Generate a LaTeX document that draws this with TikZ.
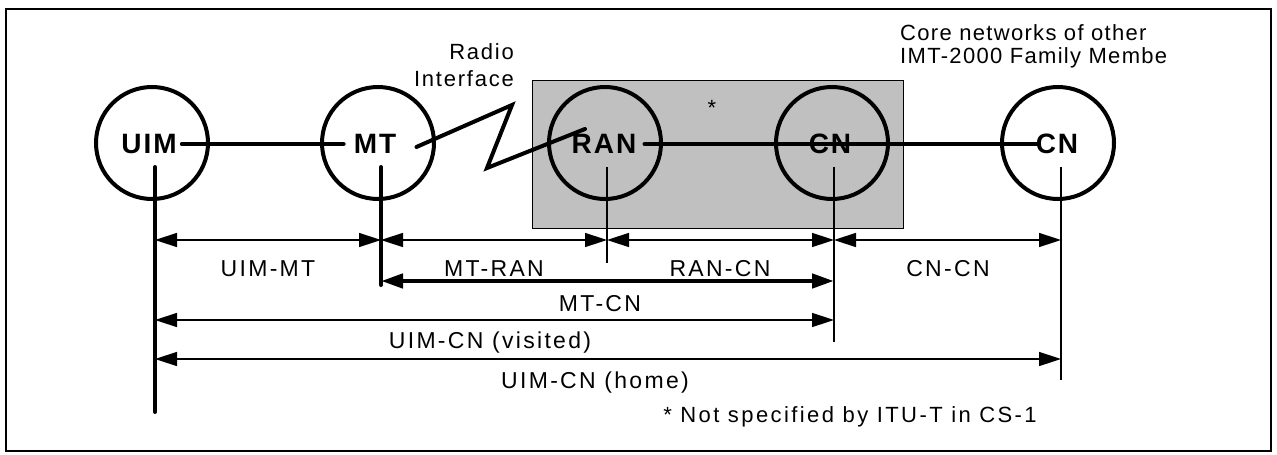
\documentclass[tikz,border=0pt]{standalone}
\usepackage{fontspec}
\setmainfont{Liberation Sans}
\usetikzlibrary{arrows.meta,positioning,calc}
\definecolor{ranbox}{RGB}{192,192,192}

\begin{document}
\begin{tikzpicture}[x=1pt,y=-1pt,
    site/.style={draw,circle,line width=4pt,minimum size=112pt,inner sep=0pt},
    sitelab/.style={font=\fontsize{28}{30}\selectfont\bfseries\addfontfeature{LetterSpace=7},inner sep=0pt},
    dimlab/.style={font=\fontsize{23}{25}\selectfont\addfontfeature{LetterSpace=10},inner sep=0pt},
    note/.style={font=\fontsize{22}{27}\selectfont\addfontfeature{LetterSpace=8},inner sep=0pt},
    link/.style={line width=4pt,line cap=round},
    thinbar/.style={line width=1.5pt},
    thickbar/.style={line width=4pt,line cap=round},
    dim/.style={line width=1.5pt,{Triangle[length=22pt,width=14pt]}-{Triangle[length=22pt,width=14pt]}},
    thickdim/.style={dim,line width=4.5pt}]
    \useasboundingbox (0,0) rectangle (1277,455);
    \draw[line width=1.5pt] (6,9) rectangle (1271,451);
    % RAN/CN area
    \node[draw,fill=ranbox,line width=1.2pt,minimum width=371pt,minimum height=148pt,anchor=north west] (area) at (532,80) {};
    \node[note] (star) at (712,108) {*};
    % Sites
    \node[site] (uim) at (152,143) {};
    \node[site] (mt)  at (378,143) {};
    \node[site] (ran) at (605,143) {};
    \node[site] (cn)  at (832,143) {};
    \node[site] (cnx) at (1058,143) {};
    \node[sitelab] (uimtxt) at (149,144) {UIM};
    \node[sitelab] (mttxt)  at (375,144) {MT};
    \node[sitelab] (rantxt) at (604,144) {RAN};
    \node[sitelab] (cntxt)  at (830,144) {CN};
    \node[sitelab] (cnxtxt) at (1057,144) {CN};
    \node[note,align=right,anchor=east] (radio) at (514,65) {Radio\\Interface};
    \node[note,align=left,anchor=north west,font=\fontsize{22}{23}\selectfont\addfontfeature{LetterSpace=6}] (core) at (900,24) {Core networks of other\\IMT-2000 Family Membe};
    % Links
    \coordinate (zz1) at (512,105);
    \coordinate (zz2) at (487,168);
    \coordinate (zz3) at (585,129);
    \draw[link] ([xshift=5pt]uimtxt.east) -- ([xshift=-10pt]mttxt.west);
    \draw[link] ([xshift=20pt,yshift=-3pt]mttxt.east) -- (zz1) -- (zz2) -- (zz3);
    \draw[link] ([xshift=8pt]rantxt.east) -- ([xshift=3pt]cnxtxt.west);
    % Reference points
    \coordinate (uimtop) at (155,167);  \coordinate (uimbot) at (155,412);
    \coordinate (mttop)  at (381,167);  \coordinate (mtbot)  at (381,285);
    \coordinate (rantop) at (607,167);  \coordinate (ranbot) at (607,263);
    \coordinate (cntop)  at (834,167);  \coordinate (cnbot)  at (834,342);
    \coordinate (cnxtop) at (1061,167); \coordinate (cnxbot) at (1061,380);
    \coordinate (row1) at (0,240);
    \coordinate (row2) at (0,281);
    \coordinate (row3) at (0,320);
    \coordinate (row4) at (0,359);
    \draw[thickbar] (uimtop) -- (uimbot);
    \draw[thickbar] (mttop) -- (mtbot);
    \foreach \a in {ran,cn,cnx}{\draw[thinbar] (\a top) -- (\a bot);}
    % Reference points span
    \foreach \a/\b in {uimtop/mttop,mttop/rantop,rantop/cntop,cntop/cnxtop}{\draw[dim] (\a|-row1) -- (\b|-row1);}
    \draw[thickdim] (mttop|-row2) -- (cntop|-row2);
    \draw[dim] (uimtop|-row3) -- (cntop|-row3);
    \draw[dim] (uimtop|-row4) -- (cnxtop|-row4);
    \node[dimlab] (luimmt) at (268,269) {UIM-MT};
    \node[dimlab] (lmtran) at (494,269) {MT-RAN};
    \node[dimlab] (lrancn) at (720,269) {RAN-CN};
    \node[dimlab] (lcncn)  at (948,269) {CN-CN};
    \node[dimlab] (lmtcn)  at (600,304) {MT-CN};
    \node[dimlab] (lvisit) at (490,343) {UIM-CN (visited)};
    \node[dimlab] (lhome)  at (595,383) {UIM-CN (home)};
    \node[note,font=\fontsize{22}{27}\selectfont\addfontfeature{LetterSpace=11}] (fnote) at (850,417) {* Not specified by ITU-T in CS-1};
\end{tikzpicture}
\end{document}
